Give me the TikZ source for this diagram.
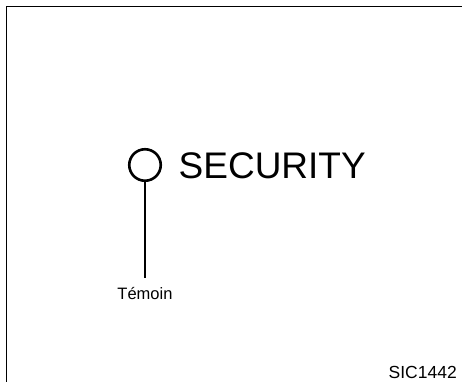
\documentclass[tikz,border=0pt]{standalone}
\usepackage{fontspec}
\setmainfont{Liberation Sans}
\begin{document}
\begin{tikzpicture}[
        x=1pt, y=-1pt,
        lamp/.style={circle, draw, line width=2.6pt, minimum size=31.5pt, inner sep=0pt},
        caption/.style={inner sep=0pt, font=\fontsize{37}{40}\selectfont},
        legend/.style={inner sep=0pt, font=\fontsize{16.5}{18}\selectfont},
        refcode/.style={inner sep=0pt, font=\fontsize{17.5}{20}\selectfont}
    ]
    \useasboundingbox (0, 0) rectangle (462, 382);

    % Cadre
    \draw[line width=1.4pt] (462, 6.5) -- (6.5, 6.5) -- (6.5, 382);

    % Temoin
    \node[lamp] (lamp) at (145, 165) {};
    \node[caption, anchor=base west] (security) at (178.5, 178) {SECURITY};
    \node[legend, anchor=base, outer sep=0pt] (temoin) at (145, 299) {Témoin};

    % Reference
    \node[refcode, anchor=base east] (ref) at (457, 378) {SIC1442};

    % Ligne de repere
    \draw[line width=1.1pt, shorten >=9pt] (lamp.south) -- (temoin.north);

\end{tikzpicture}
\end{document}
